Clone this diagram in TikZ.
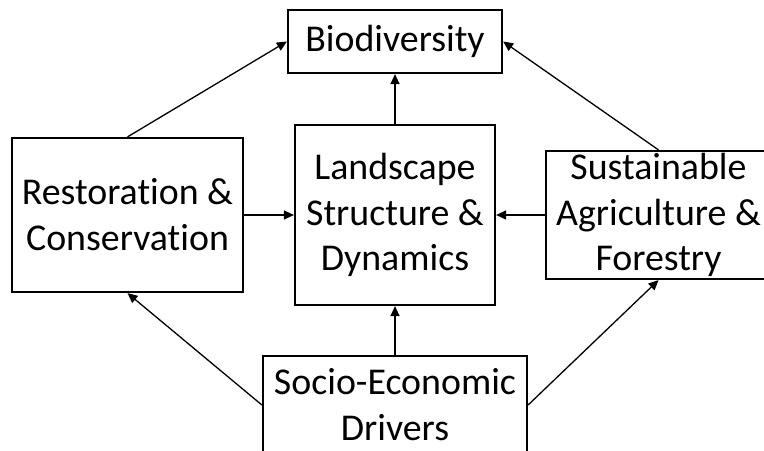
\documentclass[tikz,border=0pt]{standalone}
\usepackage{fontspec}
\setmainfont{Carlito}[Ligatures={NoCommon}]
\usetikzlibrary{arrows.meta}
\begin{document}
\begin{tikzpicture}[x=1bp,y=-1bp,
  box/.style={draw=black, line width=2.2bp, fill=white, inner sep=0pt, align=center,
    font=\fontsize{38}{46}\selectfont},
  link/.style={line width=1.3bp, -{Triangle[length=10bp,width=9bp]}}]
\clip (0,0) rectangle (764,451);
\useasboundingbox (0,0) rectangle (764,451);
\node[box, minimum width=214bp, minimum height=63bp] (bio) at (395,41.5) {Biodiversity};
\node[box, minimum width=231bp, minimum height=154bp] (rest) at (127.5,215) {Restoration \&\\Conservation};
\node[box, minimum width=200bp, minimum height=180bp] (land) at (395,215) {Landscape\\Structure \&\\Dynamics};
\node[box, minimum width=225bp, minimum height=128bp] (sust) at (658.5,215) {Sustainable\\Agriculture \&\\Forestry};
\node[box, minimum width=264bp, minimum height=98bp] (soc) at (395,405) {Socio-Economic\\Drivers};
\draw[link] (rest.north) -- (bio.west);
\draw[link] (sust.north) -- (bio.east);
\draw[link] (land.north) -- (bio.south);
\draw[link] (rest.east) -- (land.west);
\draw[link] (sust.west) -- (land.east);
\draw[link] (soc.north) -- (land.south);
\draw[link] (soc.west) -- (rest.south);
\draw[link] (soc.east) -- (sust.south);
\end{tikzpicture}
\end{document}
